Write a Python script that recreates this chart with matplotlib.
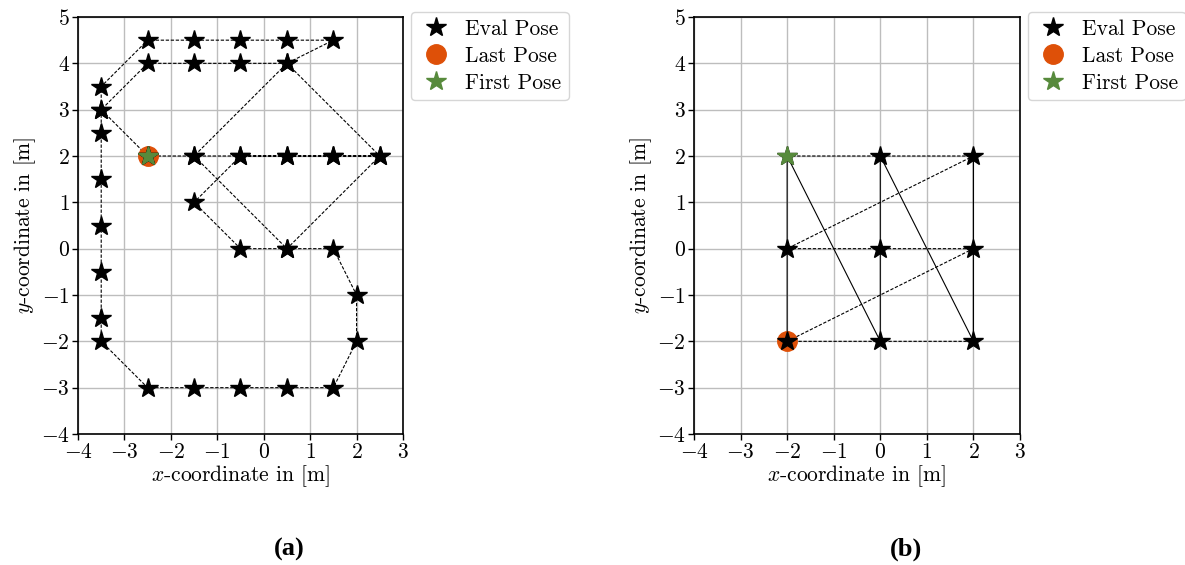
import matplotlib
matplotlib.use("Agg")
import matplotlib.pyplot as plt
from matplotlib.lines import Line2D

plt.rcParams["font.family"] = ["cmr10", "DejaVu Serif"]
plt.rcParams["mathtext.fontset"] = "cm"
plt.rcParams["axes.formatter.use_mathtext"] = True
plt.rcParams["font.size"] = 15.5

# Trajectory (a): visiting order of the evaluation poses
traj_a_x = [-2.5, -1.5, -0.5, 0.5, 1.5, 2.5, 0.5, -1.5, 0.5, 2.5, 1.5, 0.5, -0.5,
            -1.5, -0.5, 0.5, 1.5, 2.0, 2.0, 1.5, 0.5, -0.5, -1.5, -2.5, -3.5,
            -3.5, -3.5, -3.5, -3.5, -3.5, -3.5, -3.5, -2.5, -1.5, -0.5, 0.5, 1.5,
            0.5, -0.5, -1.5, -2.5, -3.5, -2.5]
traj_a_y = [2, 2, 2, 2, 2, 2, 4, 2, 0, 2, 2, 2, 2,
            1, 0, 0, 0, -1, -2, -3, -3, -3, -3, -3, -2,
            -1.5, -0.5, 0.5, 1.5, 2.5, 3, 3.5, 4.5, 4.5, 4.5, 4.5, 4.5,
            4, 4, 4, 4, 3, 2]
first_a = (-2.5, 2)
last_a = (-2.5, 2)

# Trajectory (b): row-wise sweep followed by column-wise sweep
rows_b_x = [-2, 0, 2, -2, 0, 2, -2, 0, 2]
rows_b_y = [2, 2, 2, 0, 0, 0, -2, -2, -2]
cols_b_x = [2, 2, 2, 2, 0, 0, 0, -2, -2, -2]
cols_b_y = [-2, 2, 0, -2, 2, 0, -2, 2, 0, -2]
first_b = (-2, 2)
last_b = (-2, -2)

x_ticks = list(range(-4, 4))
y_ticks = list(range(-4, 6))

c_last = "#de5008"
c_first = "#578a3c"

fig = plt.figure(figsize=(11.85, 5.65), dpi=100)
ax_a = fig.add_axes([78 / 1185, 1 - 434 / 565, 325 / 1185, 417 / 565])
ax_b = fig.add_axes([694 / 1185, 1 - 434 / 565, 326 / 1185, 417 / 565])

ms_star = 14.5
ms_circ = 14
fs = 15.5


def style_axes(ax):
    ax.set_xlim(-4, 3)
    ax.set_ylim(-4, 5)
    ax.set_xticks(x_ticks)
    ax.set_yticks(y_ticks)
    ax.grid(True, color="#bdbdbd", linewidth=1.0)
    ax.set_axisbelow(True)
    for s in ax.spines.values():
        s.set_linewidth(1.2)
    ax.tick_params(labelsize=fs, width=1.0, length=4, pad=2)
    ax.set_xlabel("$x$-coordinate in [m]", fontsize=fs, labelpad=1)
    ax.set_ylabel("$y$-coordinate in [m]", fontsize=fs, labelpad=2)
    handles = [
        Line2D([], [], ls="none", marker="*", color="black", markersize=ms_star),
        Line2D([], [], ls="none", marker="o", color=c_last, markersize=ms_circ),
        Line2D([], [], ls="none", marker="*", color=c_first, markersize=ms_star),
    ]
    ax.legend(handles, ["Eval Pose", "Last Pose", "First Pose"],
              loc="upper left", bbox_to_anchor=(1.025, 1.013), fontsize=fs,
              handletextpad=0.55, borderpad=0.35, labelspacing=0.35,
              handlelength=1.6, borderaxespad=0.0)


# (a)
ax_a.plot(traj_a_x, traj_a_y, color="black", lw=0.8, ls=(0, (3, 1.5)), zorder=2)
ax_a.plot([last_a[0]], [last_a[1]], ls="none", marker="o", color=c_last,
          markersize=ms_circ, zorder=3)
ax_a.plot(traj_a_x, traj_a_y, ls="none", marker="*", color="black",
          markersize=ms_star, zorder=4)
ax_a.plot([first_a[0]], [first_a[1]], ls="none", marker="*", color=c_first,
          markersize=ms_star, zorder=5)
style_axes(ax_a)

# (b)
ax_b.plot(rows_b_x, rows_b_y, color="black", lw=0.8, ls=(0, (3, 1.5)), zorder=2)
ax_b.plot(cols_b_x, cols_b_y, color="black", lw=0.8, ls="-", zorder=2)
ax_b.plot([last_b[0]], [last_b[1]], ls="none", marker="o", color=c_last,
          markersize=ms_circ, zorder=3)
ax_b.plot(rows_b_x, rows_b_y, ls="none", marker="*", color="black",
          markersize=ms_star, zorder=4)
ax_b.plot([first_b[0]], [first_b[1]], ls="none", marker="*", color=c_first,
          markersize=ms_star, zorder=5)
style_axes(ax_b)

# Panel tags centred under each panel (axes plus legend)
for ax, tag in ((ax_a, "(a)"), (ax_b, "(b)")):
    bb = ax.get_position()
    fig.text(bb.x0 + bb.width / 2 + 49 / 1185, 1 - 549 / 565, tag,
             ha="center", va="center", fontsize=19, fontweight="bold",
             family="Liberation Serif")

fig.savefig("out.png", dpi=100)
